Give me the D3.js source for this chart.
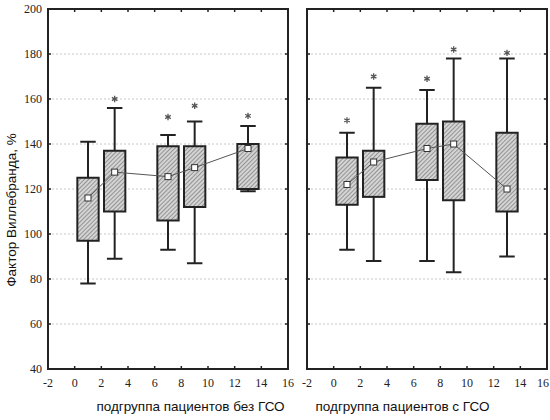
<!DOCTYPE html>
<html>
<head>
<meta charset="utf-8">
<script src="https://cdn.jsdelivr.net/npm/d3@7"></script>
<style>
  html, body { margin: 0; padding: 0; background: #fff; }
  svg { display: block; }
  .tick-label { font-family: "Liberation Serif", "Times New Roman", "DejaVu Serif", serif; font-size: 12px; fill: #222; }
  .title { font-family: "Liberation Sans", Arial, sans-serif; font-size: 13.5px; fill: #111; }
</style>
</head>
<body>
<div id="chart"></div>
<script>
// Box plots: von Willebrand factor by subgroup, two panels

const positions = [1, 3, 7, 9, 13];
const xTicks = [-2, 0, 2, 4, 6, 8, 10, 12, 14, 16];
const yTicks = [40, 60, 80, 100, 120, 140, 160, 180, 200];
const yTitle = 'Фактор Виллебранда, %';
const panelTitles = ['подгруппа пациентов без ГСО', 'подгруппа пациентов с ГСО'];

// left panel (без ГСО)
const leftMean = [116, 127.5, 125.5, 129.5, 138];
const leftBoxLow = [97, 110, 106, 112, 120];
const leftBoxHigh = [125, 137, 139, 139, 140];
const leftWhiskerLow = [78, 89, 93, 87, 119];
const leftWhiskerHigh = [141, 156, 144, 150, 148];
const leftStar = [null, 160, 152, 157, 152.5];

// right panel (с ГСО)
const rightMean = [122, 132, 138, 140, 120];
const rightBoxLow = [113, 116.5, 124, 115, 110];
const rightBoxHigh = [134, 137, 149, 150, 145];
const rightWhiskerLow = [93, 88, 88, 83, 90];
const rightWhiskerHigh = [145, 165, 164, 178, 178];
const rightStar = [150.5, 170, 169, 182, 180.5];

(function () {
    const W = 550, H = 420;
    const top = 9, bottom = 369;
    const panelW = 240;
    const panelX = [48, 307];
    const titleX = [190.5, 402.5];

    const svg = d3.select('#chart').append('svg').attr('width', W).attr('height', H);

    // hatch pattern for boxes
    const pat = svg.append('defs').append('pattern')
        .attr('id', 'hatch').attr('patternUnits', 'userSpaceOnUse')
        .attr('width', 3).attr('height', 3)
        .attr('patternTransform', 'rotate(45)');
    pat.append('rect').attr('width', 3).attr('height', 3).attr('fill', '#d4d4d4');
    pat.append('line').attr('x1', 0).attr('y1', 0).attr('x2', 0).attr('y2', 3)
        .attr('stroke', '#555').attr('stroke-width', 1);

    const y = d3.scaleLinear().domain([40, 200]).range([bottom, top]);

    const panels = [
        { mean: leftMean, lo: leftBoxLow, hi: leftBoxHigh, wlo: leftWhiskerLow, whi: leftWhiskerHigh, star: leftStar },
        { mean: rightMean, lo: rightBoxLow, hi: rightBoxHigh, wlo: rightWhiskerLow, whi: rightWhiskerHigh, star: rightStar }
    ];

    panels.forEach((p, pi) => {
        const x0 = panelX[pi];
        const x = d3.scaleLinear().domain([-2, 16]).range([x0, x0 + panelW]);
        const g = svg.append('g');

        // grid
        g.selectAll('line.grid').data(yTicks.filter(v => v > 40 && v < 200)).enter().append('line')
            .attr('x1', x0).attr('x2', x0 + panelW)
            .attr('y1', d => y(d)).attr('y2', d => y(d))
            .attr('stroke', '#c8c8c8').attr('stroke-width', 1).attr('stroke-dasharray', '2,2');

        // inner ticks on all sides
        const tickLen = 3;
        xTicks.slice(1, -1).forEach(t => {
            g.append('line').attr('x1', x(t)).attr('x2', x(t)).attr('y1', bottom).attr('y2', bottom - tickLen).attr('stroke', '#222').attr('stroke-width', 1.5);
            g.append('line').attr('x1', x(t)).attr('x2', x(t)).attr('y1', top).attr('y2', top + tickLen).attr('stroke', '#222').attr('stroke-width', 1.5);
        });
        yTicks.slice(1, -1).forEach(t => {
            g.append('line').attr('x1', x0).attr('x2', x0 + tickLen).attr('y1', y(t)).attr('y2', y(t)).attr('stroke', '#222').attr('stroke-width', 1.5);
            g.append('line').attr('x1', x0 + panelW).attr('x2', x0 + panelW - tickLen).attr('y1', y(t)).attr('y2', y(t)).attr('stroke', '#222').attr('stroke-width', 1.5);
        });

        // frame
        g.append('rect').attr('x', x0).attr('y', top).attr('width', panelW).attr('height', bottom - top)
            .attr('fill', 'none').attr('stroke', '#222').attr('stroke-width', 2);

        // x tick labels (last one on the far right kept inside the page)
        g.selectAll('text.xt').data(xTicks).enter().append('text')
            .attr('class', 'tick-label')
            .attr('x', d => (pi === 1 && d === 16) ? W - 1 : x(d)).attr('y', bottom + 18)
            .attr('text-anchor', d => (pi === 1 && d === 16) ? 'end' : 'middle').text(d => d);

        // y tick labels (left panel only)
        if (pi === 0) {
            g.selectAll('text.yt').data(yTicks).enter().append('text')
                .attr('class', 'tick-label')
                .attr('x', x0 - 6).attr('y', d => y(d) + 4)
                .attr('text-anchor', 'end').text(d => d);
        }

        const boxHalf = 0.8, capHalf = 0.58;
        const idx = d3.range(positions.length);

        // whiskers
        idx.forEach(i => {
            const cx = x(positions[i]);
            g.append('line').attr('x1', cx).attr('x2', cx).attr('y1', y(p.whi[i])).attr('y2', y(p.wlo[i]))
                .attr('stroke', '#222').attr('stroke-width', 2);
            [p.whi[i], p.wlo[i]].forEach(v => {
                g.append('line').attr('x1', x(positions[i] - capHalf)).attr('x2', x(positions[i] + capHalf))
                    .attr('y1', y(v)).attr('y2', y(v)).attr('stroke', '#222').attr('stroke-width', 2);
            });
        });

        // boxes
        g.selectAll('rect.box').data(idx).enter().append('rect')
            .attr('x', i => x(positions[i] - boxHalf))
            .attr('width', i => x(positions[i] + boxHalf) - x(positions[i] - boxHalf))
            .attr('y', i => y(p.hi[i]))
            .attr('height', i => y(p.lo[i]) - y(p.hi[i]))
            .attr('fill', 'url(#hatch)').attr('stroke', '#222').attr('stroke-width', 2);

        // mean line
        g.append('path')
            .attr('d', d3.line().x(i => x(positions[i])).y(i => y(p.mean[i]))(idx))
            .attr('fill', 'none').attr('stroke', '#555').attr('stroke-width', 1);

        // mean markers
        g.selectAll('rect.mean').data(idx).enter().append('rect')
            .attr('x', i => x(positions[i]) - 3).attr('y', i => y(p.mean[i]) - 3)
            .attr('width', 6).attr('height', 6)
            .attr('fill', '#fff').attr('stroke', '#333').attr('stroke-width', 1);

        // stars
        g.selectAll('path.star').data(idx.filter(i => p.star[i] != null)).enter().append('path')
            .attr('d', d3.symbol().type(d3.symbolAsterisk).size(28))
            .attr('transform', i => `translate(${x(positions[i])},${y(p.star[i])})`)
            .attr('fill', 'none').attr('stroke', '#555').attr('stroke-width', 1.3);

        // panel title
        svg.append('text').attr('class', 'title')
            .attr('x', titleX[pi]).attr('y', 411)
            .attr('text-anchor', 'middle').text(panelTitles[pi]);
    });

    // y title
    svg.append('text').attr('class', 'title')
        .attr('transform', `translate(16,210) rotate(-90)`)
        .attr('text-anchor', 'middle').text(yTitle);
})();
</script>
</body>
</html>
